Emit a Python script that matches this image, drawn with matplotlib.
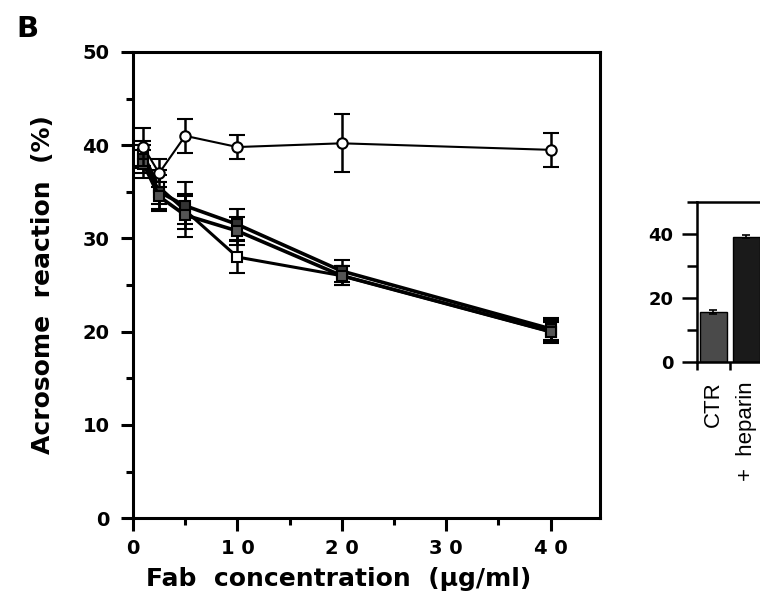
import matplotlib
matplotlib.use("Agg")
import matplotlib.pyplot as plt
from matplotlib.ticker import MultipleLocator, FixedLocator

plt.rcParams['font.family'] = ['DejaVu Sans']
plt.rcParams['font.weight'] = 'bold'

# ---- data ----
fab_conc = [1, 2.5, 5, 10, 20, 40]
ctrl_fab = [39.8, 37.0, 41.0, 39.8, 40.2, 39.5]
ctrl_err = [2.0, 1.5, 1.8, 1.3, 3.1, 1.85]
fab_a = [39.0, 35.5, 33.0, 28.0, 26.0, 20.0]
fab_a_err = [1.5, 1.8, 1.5, 1.7, 1.0, 1.2]
fab_b = [38.5, 35.0, 33.5, 31.5, 26.5, 20.3]
fab_b_err = [1.5, 1.8, 2.5, 1.7, 1.2, 1.2]
fab_c = [38.0, 34.5, 32.5, 30.8, 26.0, 20.0]
fab_c_err = [1.5, 1.6, 2.3, 1.5, 1.0, 1.0]

x_ticks = [0, 10, 20, 30, 40]
x_ticklabels = ['0', '1 0', '2 0', '3 0', '4 0']
y_ticks = [0, 10, 20, 30, 40, 50]

inset_cats = ['CTR', '+  heparin']
inset_vals = [15.5, 39.2]
inset_err = [0.6, 0.6]
inset_colors = ['#4a4a4a', '#1a1a1a']

fig = plt.figure(figsize=(7.6, 6.11), dpi=100)
ax = fig.add_axes([0.175, 0.152, 0.614, 0.763])

for s in ax.spines.values():
    s.set_linewidth(2.2)

cap = 5.5
common = dict(color='black', capsize=cap, capthick=1.8, elinewidth=1.8, mec='black', mew=1.5)
ax.errorbar(fab_conc, fab_a, yerr=fab_a_err, lw=2.2, marker='s', ms=7, mfc='white', zorder=3, **common)
ax.errorbar(fab_conc, fab_b, yerr=fab_b_err, lw=2.6, marker='s', ms=7, mfc='#333333', zorder=3, **common)
ax.errorbar(fab_conc, fab_c, yerr=fab_c_err, lw=2.6, marker='s', ms=7, mfc='#555555', zorder=3, **common)
ax.errorbar(fab_conc, ctrl_fab, yerr=ctrl_err, lw=1.5, marker='o', ms=7.5, mfc='white', zorder=4, **common)

ax.set_xlim(0, 44.7)
ax.set_ylim(0, 50)
ax.xaxis.set_major_locator(FixedLocator(x_ticks))
ax.set_xticklabels(x_ticklabels)
ax.xaxis.set_minor_locator(MultipleLocator(5))
ax.yaxis.set_major_locator(FixedLocator(y_ticks))
ax.yaxis.set_minor_locator(MultipleLocator(5))
ax.tick_params(which='major', direction='out', length=9, width=2.2, labelsize=14, pad=6)
ax.tick_params(axis='y', which='major', pad=8)
ax.tick_params(which='minor', direction='out', length=5, width=2.2)
for t in ax.get_xticklabels() + ax.get_yticklabels():
    t.set_fontweight('bold')

ax.set_xlabel('Fab  concentration  (\u00b5g/ml)', fontsize=18, fontweight='bold')
ax.xaxis.set_label_coords(0.44, -0.105)
ax.set_ylabel('Acrosome  reaction  (%)', fontsize=18, fontweight='bold', labelpad=20)

fig.text(0.022, 0.93, 'B', fontsize=21, fontweight='bold', ha='left', va='bottom')

# ---- inset ----
ax2 = fig.add_axes([0.917, 0.4075, 0.13, 0.262])
for s in ax2.spines.values():
    s.set_linewidth(1.8)
pos = [i + 0.5 for i in range(len(inset_cats))]
ax2.bar(pos, inset_vals, width=0.82, color=inset_colors, edgecolor='black', lw=1.0,
        yerr=inset_err, capsize=3, error_kw=dict(elinewidth=1.2, capthick=1.2))
ax2.set_xlim(0, 3)
ax2.set_ylim(0, 50)
ax2.set_xticks([0, 1, 2])
ax2.set_xticklabels([])
ax2.set_xticks(pos, minor=True)
ax2.set_xticklabels(inset_cats, minor=True, rotation=90, fontsize=16, fontweight='normal',
                    va='top', family=['Liberation Sans', 'DejaVu Sans'])
ax2.tick_params(axis='x', which='minor', length=0, pad=14)
ax2.tick_params(axis='x', which='major', length=6, width=1.8, direction='out')
ax2.yaxis.set_major_locator(FixedLocator([0, 20, 40]))
ax2.yaxis.set_minor_locator(MultipleLocator(10))
ax2.tick_params(axis='y', which='major', length=11, width=1.8, labelsize=13, pad=6)
ax2.tick_params(axis='y', which='minor', length=7, width=1.8)
for t in ax2.get_yticklabels():
    t.set_fontweight('bold')

fig.savefig('out.png', dpi=100)
